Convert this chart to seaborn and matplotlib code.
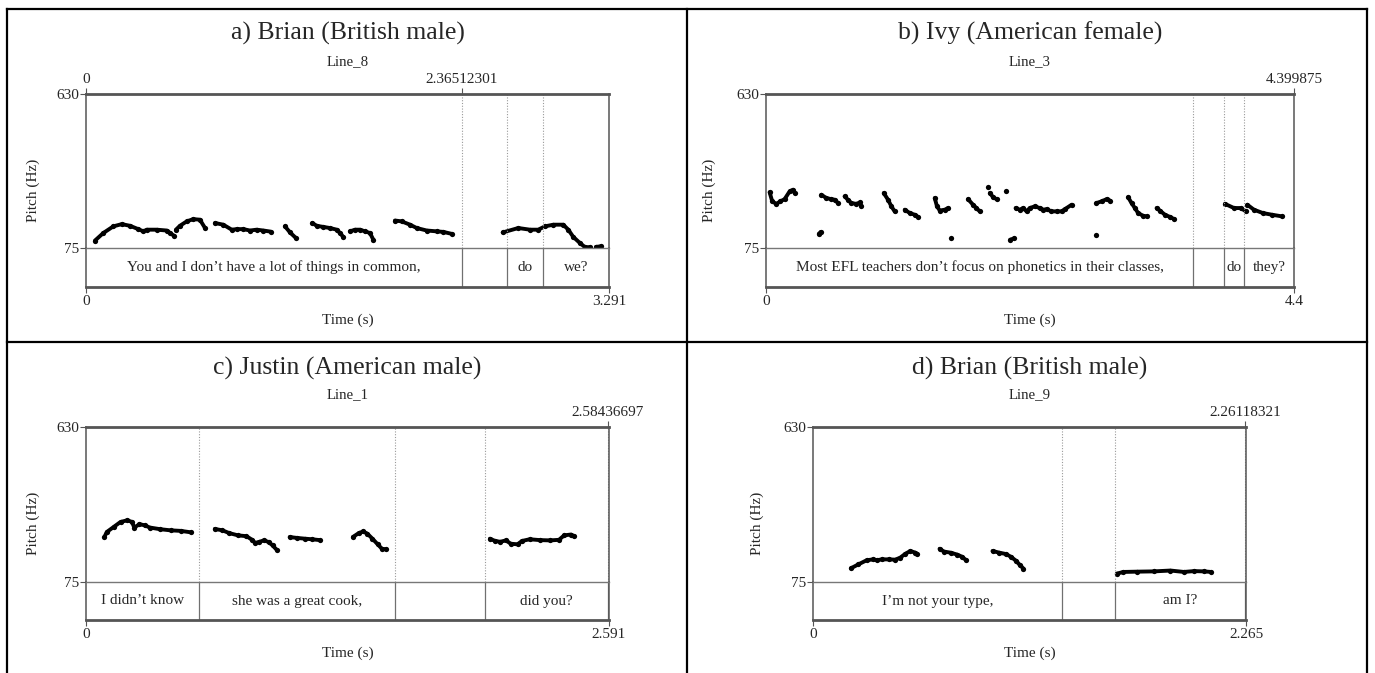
import pandas as pd
import matplotlib
matplotlib.use('Agg')
import matplotlib.pyplot as plt
import seaborn as sns

# pitch tracks (s, Hz), one inner list per voiced stretch
a_time = [[0.057, 0.109, 0.172, 0.225, 0.277, 0.329, 0.361, 0.382, 0.445, 0.508, 0.529, 0.554],
          [0.566, 0.591, 0.634, 0.675, 0.717, 0.749],
          [0.812, 0.864, 0.917, 0.948, 0.990, 1.032, 1.074, 1.116, 1.162],
          [1.252, 1.284, 1.321],
          [1.424, 1.452, 1.493, 1.535, 1.578, 1.598, 1.619],
          [1.661, 1.693, 1.724, 1.756, 1.787, 1.808],
          [1.944, 1.986, 2.039, 2.081, 2.144, 2.207, 2.249, 2.301],
          [2.622, 2.720, 2.794, 2.846, 2.888, 2.941, 3.003, 3.035, 3.066, 3.108, 3.140, 3.171],
          [3.209, 3.238]]
a_pitch = [[102, 129, 153, 161, 155, 143, 135, 141, 141, 138, 129, 119],
           [141, 155, 171, 179, 177, 147],
           [165, 159, 141, 143, 143, 138, 141, 138, 134],
           [153, 131, 111],
           [165, 155, 151, 147, 141, 129, 115],
           [135, 141, 141, 135, 129, 105],
           [174, 171, 159, 147, 138, 135, 133, 126],
           [131, 147, 141, 141, 153, 159, 159, 141, 115, 93, 78, 78],
           [79, 81]]

b_time = [[0.030, 0.052, 0.086, 0.119, 0.155, 0.197, 0.225, 0.238],
          [0.440, 0.456],
          [0.461, 0.503, 0.545, 0.572, 0.600],
          [0.655, 0.683, 0.711, 0.753, 0.781, 0.795],
          [0.981, 1.017, 1.045, 1.072],
          [1.156, 1.198, 1.239, 1.267],
          [1.406, 1.425, 1.448, 1.490, 1.517],
          [1.540],
          [1.684, 1.725, 1.753, 1.781],
          [1.851],
          [1.865, 1.893, 1.921],
          [2.004],
          [2.035, 2.070],
          [2.080, 2.115, 2.143, 2.171, 2.198, 2.240, 2.282, 2.310, 2.338, 2.379, 2.421, 2.463, 2.491, 2.547],
          [2.750],
          [2.754, 2.796, 2.838, 2.866],
          [3.018, 3.046, 3.074, 3.101, 3.143, 3.171],
          [3.255, 3.282, 3.324, 3.366, 3.402],
          [3.825, 3.900, 3.955, 4.000],
          [4.011, 4.066, 4.140, 4.215, 4.300]]
b_pitch = [[276, 243, 234, 243, 251, 279, 285, 273],
           [126, 133],
           [267, 255, 251, 249, 237],
           [261, 249, 237, 234, 239, 225],
           [273, 249, 225, 207],
           [213, 201, 195, 187],
           [255, 225, 210, 213, 219],
           [110],
           [251, 231, 219, 207],
           [294],
           [273, 258, 251],
           [279],
           [105, 110],
           [219, 213, 219, 207, 219, 225, 219, 213, 215, 207, 207, 207, 215, 231],
           [123],
           [237, 243, 251, 246],
           [258, 237, 219, 201, 191, 189],
           [219, 210, 195, 187, 179],
           [234, 219, 219, 207],
           [231, 213, 201, 195, 189]]

c_time = [[0.091, 0.103, 0.137, 0.171, 0.205, 0.228, 0.239, 0.265, 0.291, 0.316, 0.368, 0.419, 0.470, 0.518],
          [0.638, 0.676, 0.710, 0.753, 0.795, 0.821, 0.838, 0.855, 0.881, 0.906, 0.924, 0.944],
          [1.009, 1.043, 1.086, 1.120, 1.158],
          [1.322, 1.351, 1.373, 1.394, 1.419, 1.445, 1.466, 1.488],
          [2.001, 2.027, 2.052, 2.081, 2.104, 2.138, 2.160, 2.198, 2.249, 2.300, 2.343, 2.369, 2.403, 2.420]]
c_pitch = [[236, 254, 272, 290, 296, 290, 270, 282, 278, 270, 264, 260, 258, 253],
           [265, 260, 250, 242, 239, 227, 215, 218, 224, 218, 206, 191],
           [236, 233, 230, 228, 225],
           [236, 250, 256, 248, 230, 210, 194, 192],
           [230, 222, 219, 224, 212, 210, 222, 228, 225, 224, 226, 242, 245, 238]]

d_time = [[0.198, 0.237, 0.281, 0.316, 0.334, 0.360, 0.395, 0.430, 0.456, 0.483, 0.509, 0.536, 0.544],
          [0.662, 0.685, 0.720, 0.755, 0.781, 0.799],
          [0.939, 0.975, 1.010, 1.036, 1.062, 1.083, 1.101],
          [1.589, 1.624, 1.694, 1.782, 1.870, 1.940, 1.993, 2.046, 2.081]]
d_pitch = [[124, 138, 153, 156, 153, 156, 156, 155, 162, 176, 186, 180, 176],
           [194, 184, 180, 173, 165, 154],
           [186, 180, 175, 165, 151, 135, 123],
           [105, 111, 112, 113, 116, 111, 114, 113, 111]]

# text tier: interval boundaries (s) and the words in each interval
a_bounds = [0, 2.36512301, 2.648, 2.875, 3.291]
a_words = ['You and I don’t have a lot of things in common,', '', 'do', 'we?']
b_bounds = [0, 3.559, 3.818, 3.981, 4.4]
b_words = ['Most EFL teachers don’t focus on phonetics in their classes,', '', 'do', 'they?']
c_bounds = [0, 0.558, 1.532, 1.978, 2.58436697]
c_words = ['I didn’t know', 'she was a great cook,', '', 'did you?']
d_bounds = [0, 1.301, 1.578, 2.26118321]
d_words = ['I’m not your type,', '', 'am I?']

# axis ends and the marked times above each plot
a_top = ['0', '2.36512301']
b_top = ['4.399875']
c_top = ['2.58436697']
d_top = ['2.26118321']
a_end, b_end, c_end, d_end = '3.291', '4.4', '2.591', '2.265'

titles = ['a) Brian (British male)', 'b) Ivy (American female)',
          'c) Justin (American male)', 'd) Brian (British male)']
line_names = ['Line_8', 'Line_3', 'Line_1', 'Line_9']

sns.set_style('white')
plt.rcParams['font.family'] = ['Liberation Serif', 'DejaVu Serif']

W, H = 1375, 673
fig = plt.figure(figsize=(W / 100, H / 100), dpi=100)

# table grid behind the four panels
bg = fig.add_axes([0, 0, 1, 1], zorder=-1)
bg.set_xlim(0, W)
bg.set_ylim(H, 0)
bg.axis('off')
for xs, ys in [([7, 1367], [9, 9]), ([7, 1367], [342, 342]), ([7, 7], [9, H]),
               ([687, 687], [9, H]), ([1367, 1367], [9, H])]:
    bg.plot(xs, ys, color='black', lw=1.6, solid_capstyle='projecting')


def rect(left, right, top, bottom):
    return [left / W, 1 - bottom / H, (right - left) / W, (bottom - top) / H]


def draw_panel(title, line_name, times, pitches, bounds, words, top_labels, end_label,
               left, right, top, mid, bottom, title_y, line_y, time_y, ylab_x):
    xmax = float(end_label)
    tier = fig.add_axes(rect(left, right, mid, bottom))
    ax = fig.add_axes(rect(left, right, top, mid))
    ax.patch.set_visible(False)
    tier.patch.set_visible(False)

    rows = []
    for k, (ts, hs) in enumerate(zip(times, pitches)):
        rows += [(k, t, h) for t, h in zip(ts, hs)]
    df = pd.DataFrame(rows, columns=['seg', 'time', 'pitch'])
    sns.lineplot(data=df, x='time', y='pitch', units='seg', estimator=None, ax=ax,
                 color='black', lw=2.8, marker='o', markersize=3.8, markeredgewidth=0,
                 solid_capstyle='round', solid_joinstyle='round')

    ax.set_xlim(0, xmax)
    ax.set_ylim(75, 630)
    tier.set_xlim(0, xmax)
    tier.set_ylim(0, 1)

    for b in bounds[1:]:
        if 0 < b < xmax:
            ax.axvline(b, color='#9a9a9a', lw=0.8, ls=(0, (1, 1.5)))
            tier.axvline(b, color='#707070', lw=0.9)
    for a0, a1, w in zip(bounds[:-1], bounds[1:], words):
        tier.text((a0 + a1) / 2, 0.5, w, ha='center', va='center', fontsize=11)

    ax.set_yticks([75, 630])
    ax.set_yticklabels(['75', '630'])
    ax.set_xticks([float(s) for s in top_labels])
    ax.set_xticklabels(top_labels)
    ax.tick_params(axis='x', top=True, labeltop=True, bottom=False, labelbottom=False,
                   direction='out', length=4, width=0.8, color='#555555', pad=2, labelsize=11)
    ax.tick_params(axis='y', left=True, direction='out', length=4, width=0.8,
                   color='#555555', pad=1, labelsize=11)
    ax.set_xlabel('')
    ax.set_ylabel('')

    tier.set_yticks([])
    tier.set_xticks([0, xmax])
    tier.set_xticklabels(['0', end_label])
    tier.tick_params(axis='x', bottom=True, direction='out', length=4, width=0.8,
                     color='#555555', pad=2, labelsize=11)

    for s in ax.spines.values():
        s.set_color('#555555')
        s.set_linewidth(1.1)
    ax.spines['top'].set_linewidth(2.0)
    ax.spines['bottom'].set_color('#777777')
    ax.spines['bottom'].set_linewidth(1.0)
    for s in tier.spines.values():
        s.set_color('#555555')
        s.set_linewidth(1.1)
    tier.spines['top'].set_visible(False)
    tier.spines['bottom'].set_linewidth(2.0)

    cx = (left + right) / 2 / W
    fig.text(cx, 1 - title_y / H, title, ha='center', va='center', fontsize=18.5)
    fig.text(cx, 1 - line_y / H, line_name, ha='center', va='center', fontsize=10.7)
    fig.text(cx, 1 - time_y / H, 'Time (s)', ha='center', va='center', fontsize=11)
    fig.text(ylab_x / W, 1 - (top + bottom) / 2 / H, 'Pitch (Hz)', ha='center', va='center',
             rotation=90, fontsize=11)


draw_panel(titles[0], line_names[0], a_time, a_pitch, a_bounds, a_words, a_top, a_end,
           86, 609, 94, 248, 287, 33, 62, 320, 33)
draw_panel(titles[1], line_names[1], b_time, b_pitch, b_bounds, b_words, b_top, b_end,
           766, 1294, 94, 248, 287, 33, 62, 320, 709)
draw_panel(titles[2], line_names[2], c_time, c_pitch, c_bounds, c_words, c_top, c_end,
           86, 609, 427, 582, 620, 368, 395, 653, 33)
draw_panel(titles[3], line_names[3], d_time, d_pitch, d_bounds, d_words, d_top, d_end,
           813, 1246, 427, 582, 620, 368, 395, 653, 757)

fig.savefig('out.png', dpi=100, facecolor='white')
